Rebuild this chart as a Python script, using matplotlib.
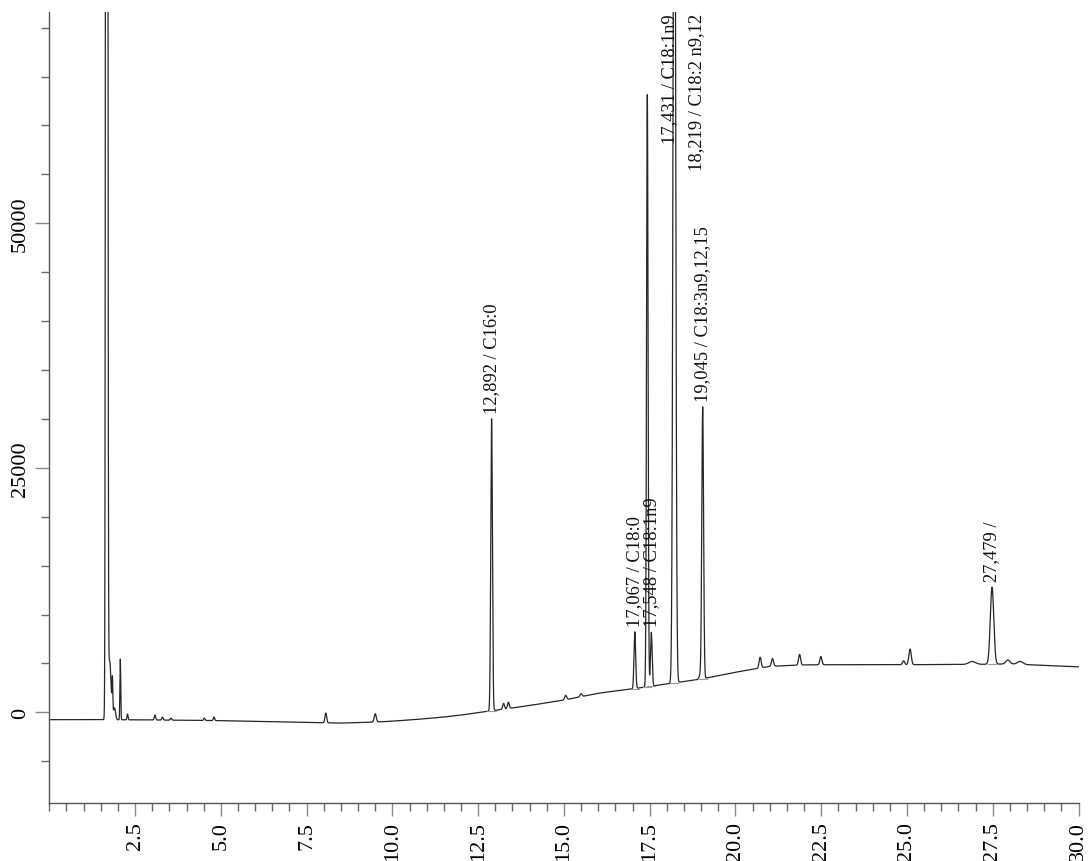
import numpy as np
import matplotlib
matplotlib.use("Agg")
import matplotlib.pyplot as plt
from matplotlib.ticker import MultipleLocator, FixedLocator, FuncFormatter

# Detector baseline drift: time (min) and signal (counts)
baseline_time = [0.0, 1.6, 3.0, 5.0, 7.0, 8.5, 9.5, 10.0, 10.5, 11.0, 11.5,
                 12.0, 12.9, 13.5, 14.0, 15.0, 16.0, 17.0, 18.0, 19.0, 20.0,
                 20.5, 21.0, 22.0, 23.0, 25.0, 27.0, 28.0, 29.0, 30.0]
baseline_signal = [-750, -750, -780, -850, -1000, -1100, -1000, -900, -780,
                   -640, -480, -280, 160, 450, 700, 1250, 1950, 2400, 2900,
                   3400, 4100, 4400, 4700, 4850, 4870, 4870, 4900, 4950,
                   4800, 4650]

# Peak table: retention time (min), height above baseline (counts), sigma (min)
peak_rt = [1.673, 1.76, 1.84, 1.90, 2.07, 2.28, 3.08, 3.30, 3.55, 4.52, 4.80,
           8.06, 9.50, 12.892, 13.24, 13.38, 15.05, 15.50, 17.067, 17.431,
           17.548, 18.219, 18.97, 19.045, 20.72, 21.08, 21.87, 22.49, 24.90,
           25.09, 26.90, 27.479, 27.94, 28.30]
peak_height = [500000, 6000, 3500, 1200, 6200, 600, 500, 300, 200, 250, 350,
               1000, 850, 29850, 600, 650, 450, 300, 5800, 60600,
               5500, 110000, 400, 27800, 1100, 790, 1090, 850, 400,
               1600, 300, 7870, 400, 300]
peak_sigma = [0.02, 0.04, 0.012, 0.03, 0.012, 0.015, 0.02, 0.02, 0.02, 0.02,
              0.02, 0.025, 0.03, 0.024, 0.025, 0.025, 0.03, 0.03, 0.024, 0.022,
              0.024, 0.035, 0.03, 0.026, 0.03, 0.03, 0.03, 0.03, 0.03,
              0.035, 0.1, 0.05, 0.06, 0.08]

# Identified peaks
label_rt = [12.892, 17.067, 17.431, 17.548, 18.219, 19.045, 27.479]
label_name = ["C16:0", "C18:0", "C18:1n9", "C18:1n9", "C18:2 n9,12",
              "C18:3n9,12,15", ""]

x_ticks = [2.5, 5.0, 7.5, 10.0, 12.5, 15.0, 17.5, 20.0, 22.5, 25.0, 27.5, 30.0]
y_limits = (-9300, 71600)
x_limits = (0.0, 30.0)

# Build the chromatogram trace
t = np.arange(0.0, 30.0005, 0.002)
baseline = np.interp(t, baseline_time, baseline_signal)
signal = baseline.copy()
for rt, h, s in zip(peak_rt, peak_height, peak_sigma):
    signal += h * np.exp(-0.5 * ((t - rt) / s) ** 2)

serif = "Liberation Serif"
fig = plt.figure(figsize=(10.89, 8.62), dpi=100)
ax = fig.add_axes([0.04527, 0.06694, 0.9451, 0.9180])

ax.plot(t, signal, color="#262626", lw=0.9)

# Integration baselines under identified peaks
for rt in label_rt:
    i = np.argmin(np.abs(t - rt))
    b = baseline[i]
    ax.plot([rt - 0.12, rt + 0.12], [b, b], color="#9a9a9a", lw=0.8)

ax.set_xlim(*x_limits)
ax.set_ylim(*y_limits)

ax.xaxis.set_major_locator(FixedLocator(x_ticks))
ax.xaxis.set_minor_locator(MultipleLocator(0.5))
ax.xaxis.set_major_formatter(FuncFormatter(lambda v, p: f"{v:.1f}"))
ax.yaxis.set_major_locator(MultipleLocator(25000))
ax.yaxis.set_minor_locator(MultipleLocator(5000))
ax.yaxis.set_major_formatter(FuncFormatter(lambda v, p: f"{int(round(v))}"))

for side in ("top", "right"):
    ax.spines[side].set_visible(False)
for side in ("left", "bottom"):
    ax.spines[side].set_color("#555555")
    ax.spines[side].set_linewidth(1.0)

ax.tick_params(axis="x", which="major", direction="out", length=9.5, width=1,
               color="#8a8a8a", pad=3)
ax.tick_params(axis="x", which="minor", direction="out", length=5.8, width=1,
               color="#6a6a6a")
ax.tick_params(axis="y", which="major", direction="out", length=10, width=1,
               color="#8a8a8a", pad=4)
ax.tick_params(axis="y", which="minor", direction="out", length=5.5, width=1,
               color="#6a6a6a")

for lab in ax.get_xticklabels():
    lab.set_fontfamily(serif)
    lab.set_fontsize(16)
    lab.set_rotation(90)
for lab in ax.get_yticklabels():
    lab.set_fontfamily(serif)
    lab.set_fontsize(16)
    lab.set_rotation(90)
    lab.set_verticalalignment("center")

# Peak annotations: placed above the apex, or beside it when there is no room
texts = []
for rt, name in zip(label_rt, label_name):
    i = np.argmin(np.abs(t - rt))
    apex = signal[i]
    txt = f"{rt:.3f}".replace(".", ",") + " / " + name
    ann = ax.annotate(txt.strip() if name == "" else txt,
                      xy=(rt, apex), xytext=(0, 4.5), textcoords="offset points",
                      rotation=90, ha="center", va="bottom",
                      fontfamily=serif, fontsize=13.3, color="#111111",
                      annotation_clip=False)
    texts.append((ann, rt))

fig.canvas.draw()
renderer = fig.canvas.get_renderer()
ax_top = ax.get_window_extent(renderer).y1
for ann, rt in texts:
    bb = ann.get_window_extent(renderer)
    if bb.y1 > ax_top:
        ann.xy = (rt, y_limits[1])
        ann.set_position((16, -1))
        ann.set_va("top")

fig.savefig("out.png", dpi=100)
